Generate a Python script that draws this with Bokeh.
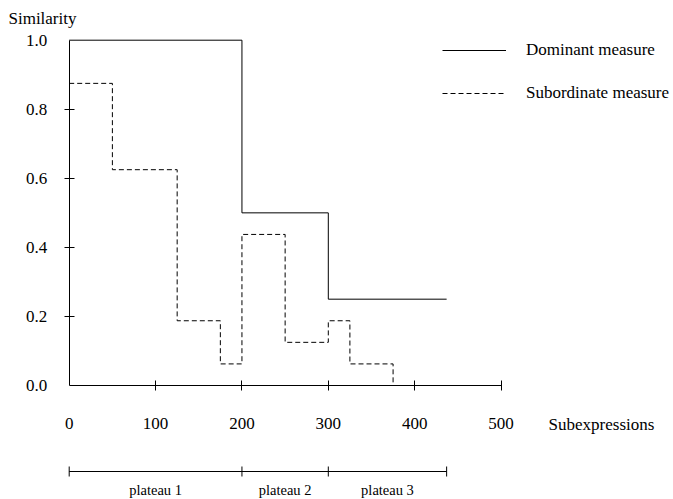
from bokeh.plotting import figure
from bokeh.models import (LinearAxis, FixedTicker, Range1d, Legend, LegendItem,
                          PrintfTickFormatter)
from bokeh.core.properties import value
from bokeh.embed import file_html
from bokeh.resources import INLINE

# ---- data ----
dom_x = [0, 200, 300, 437]
dom_y = [1.0, 0.5, 0.25, 0.25]
sub_x = [0, 50, 125, 175, 200, 250, 300, 325, 375]
sub_y = [0.875, 0.625, 0.1875, 0.0625, 0.4375, 0.125, 0.1875, 0.0625, 0.0]
x_ticks = [0, 100, 200, 300, 400, 500]
y_ticks = [0.0, 0.2, 0.4, 0.6, 0.8, 1.0]
plateau_edges = [0, 200, 300, 437]
plateau_labels = ["plateau 1", "plateau 2", "plateau 3"]
series_names = ["Dominant measure", "Subordinate measure"]

FONT = "'Liberation Serif', 'Times New Roman', serif"
W, H = 673, 499
# pixel mapping: x=0 -> 68.7px, 0.8637 px/unit ; y=0 -> 385px, 345.3 px/unit
x0px, xs = 68.7, 0.8637
y0px, ys = 385.0, 345.3

p = figure(width=W, height=H, output_backend="svg", toolbar_location=None,
           x_axis_type=None, y_axis_type=None,
           x_range=Range1d(-x0px / xs, (W - x0px) / xs),
           y_range=Range1d((y0px - H) / ys, y0px / ys),
           min_border=0, min_border_left=0, min_border_right=0,
           min_border_top=0, min_border_bottom=0)
p.outline_line_color = None
p.xgrid.visible = False
p.ygrid.visible = False
p.background_fill_color = "white"
p.border_fill_color = "white"

# ---- axes ----
xa = LinearAxis(fixed_location=0, ticker=FixedTicker(ticks=x_ticks[1:]),
                bounds=(x_ticks[0], x_ticks[-1]),
                major_tick_in=5, major_tick_out=5, minor_tick_line_color=None,
                major_label_text_color=None,
                axis_line_color="black", major_tick_line_color="black")
p.add_layout(xa, "below")
xl = LinearAxis(fixed_location=0, ticker=FixedTicker(ticks=x_ticks),
                major_tick_in=0, major_tick_out=5, major_tick_line_color=None,
                minor_tick_line_color=None, axis_line_color=None,
                major_label_standoff=27,
                major_label_text_font=FONT, major_label_text_font_size="17px",
                major_label_text_color="black")
p.add_layout(xl, "below")

ya = LinearAxis(fixed_location=0, ticker=FixedTicker(ticks=y_ticks[1:-1]),
                bounds=(y_ticks[0], y_ticks[-1]),
                major_tick_in=5, major_tick_out=5, minor_tick_line_color=None,
                major_label_text_color=None,
                axis_line_color="black", major_tick_line_color="black")
p.add_layout(ya, "left")
yl = LinearAxis(fixed_location=0, ticker=FixedTicker(ticks=y_ticks),
                major_tick_in=0, major_tick_out=5, major_tick_line_color=None,
                minor_tick_line_color=None, axis_line_color=None,
                major_label_standoff=17,
                formatter=PrintfTickFormatter(format="%.1f"),
                major_label_text_font=FONT, major_label_text_font_size="17px",
                major_label_text_color="black")
p.add_layout(yl, "left")

# ---- series ----
r_dom = p.step(x=dom_x, y=dom_y, mode="after", line_color="black", line_width=1)
r_sub = p.step(x=sub_x, y=sub_y, mode="after", line_color="black", line_width=1,
               line_dash="5 3")

legend = Legend(items=[LegendItem(label=series_names[0], renderers=[r_dom]),
                       LegendItem(label=series_names[1], renderers=[r_sub])],
                location=(442, 396), orientation="vertical",
                glyph_width=64, glyph_height=20, label_height=20,
                label_standoff=20, spacing=23, padding=0, margin=0,
                border_line_color=None, background_fill_alpha=0,
                label_text_font=FONT, label_text_font_size="17px",
                label_text_color="black")
p.add_layout(legend)

# ---- titles ----
p.text(x=[-70.3], y=[(y0px - 18) / ys], text=["Similarity"],
       text_font=value(FONT), text_font_size="17px", text_color="black",
       text_align="left", text_baseline="alphabetic")
p.text(x=[555], y=[(y0px - 424) / ys], text=["Subexpressions"],
       text_font=value(FONT), text_font_size="17px", text_color="black",
       text_align="left", text_baseline="middle")

# ---- plateau bar ----
bar_y = (y0px - 471) / ys
tick_h = 5 / ys
p.segment(x0=[plateau_edges[0]], y0=[bar_y], x1=[plateau_edges[-1]], y1=[bar_y],
          line_color="black", line_width=1)
p.segment(x0=plateau_edges, y0=[bar_y - tick_h] * len(plateau_edges),
          x1=plateau_edges, y1=[bar_y + tick_h] * len(plateau_edges),
          line_color="black", line_width=1)
mids = [(a + b) / 2 for a, b in zip(plateau_edges[:-1], plateau_edges[1:])]
p.text(x=mids, y=[(y0px - 489) / ys] * len(mids), text=plateau_labels,
       text_font=value(FONT), text_font_size="14.5px", text_color="black",
       text_align="center", text_baseline="middle")

open("out.html", "w").write(file_html(p, INLINE))
